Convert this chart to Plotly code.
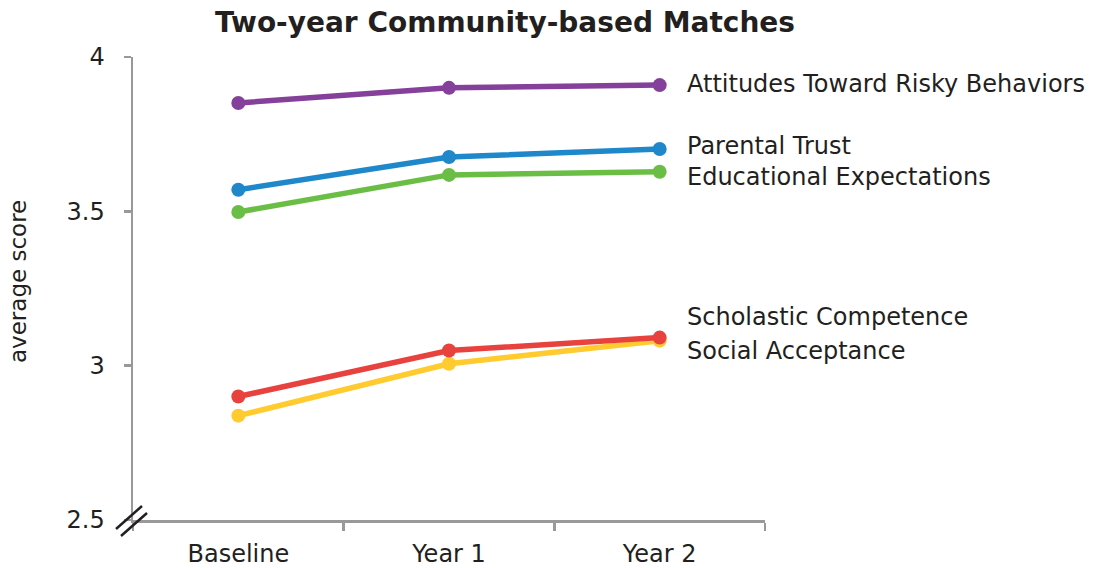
import plotly.graph_objects as go

categories = ["Baseline", "Year 1", "Year 2"]
series_names = [
    "Attitudes Toward Risky Behaviors",
    "Parental Trust",
    "Educational Expectations",
    "Scholastic Competence",
    "Social Acceptance",
]
attitudes = [3.851, 3.90, 3.909]
parental = [3.570, 3.676, 3.702]
educational = [3.498, 3.618, 3.628]
scholastic = [2.900, 3.049, 3.091]
social = [2.838, 3.006, 3.081]
colors = ["#84409A", "#1E88CB", "#6BBE45", "#E8423F", "#FFCB2F"]
label_y = [3.913, 3.712, 3.612, 3.159, 3.049]
y_ticks = [2.5, 3, 3.5, 4]
y_tick_text = ["2.5", "3", "3.5", "4"]

values = [attitudes, parental, educational, scholastic, social]
FONT = "DejaVu Sans, Verdana, sans-serif"
INK = "#231F20"
AXIS = "#999999"

fig = go.Figure()
for name, vals, col in reversed(list(zip(series_names, values, colors))):
    fig.add_trace(go.Scatter(
        x=categories, y=vals, name=name, mode="lines+markers",
        line=dict(color=col, width=5.5),
        marker=dict(color=col, size=14),
        showlegend=False, cliponaxis=False, hoverinfo="skip",
    ))

for name, ly in zip(series_names, label_y):
    fig.add_annotation(
        text=name, x=1, xref="paper", xshift=-80, xanchor="left",
        y=ly, yref="y", showarrow=False,
        font=dict(family=FONT, size=24, color=INK),
    )

fig.add_annotation(
    text="average score", textangle=-90, x=0, xref="paper", xshift=-115,
    xanchor="center", y=1 - (282 - 57) / (520 - 57), yref="paper",
    yanchor="middle", showarrow=False,
    font=dict(family=FONT, size=23, color=INK),
)

# axis break marks
for dx0, dy0, dx1, dy1 in [(-17, -9, 9, 14), (-12, -16, 14, 7)]:
    fig.add_shape(
        type="line", xref="paper", yref="paper",
        xsizemode="pixel", ysizemode="pixel", xanchor=0, yanchor=0,
        x0=dx0, y0=dy0, x1=dx1, y1=dy1,
        line=dict(color=INK, width=2.5),
    )

fig.update_layout(
    width=1095, height=568,
    margin=dict(l=133, r=330, t=57, b=48),
    paper_bgcolor="white", plot_bgcolor="white",
    hovermode=False,
    title=dict(
        text="<b>Two-year Community-based Matches</b>",
        x=505 / 1095, xanchor="center", xref="container",
        y=1 - 22 / 568, yanchor="middle", yref="container",
        font=dict(family=FONT, size=28, color=INK),
    ),
    xaxis=dict(
        type="category", range=[-0.5, 2.5], tickson="boundaries",
        automargin=False,
        showline=True, linecolor=AXIS, linewidth=2.5,
        ticks="outside", ticklen=8, tickcolor=AXIS, tickwidth=2.5,
        showgrid=False, zeroline=False,
        tickfont=dict(family=FONT, size=24, color=INK),
        ticklabelstandoff=11,
    ),
    yaxis=dict(
        range=[2.5, 4], tickvals=y_ticks, ticktext=y_tick_text,
        automargin=False,
        showline=True, linecolor=AXIS, linewidth=2.5,
        ticks="outside", ticklen=7, tickcolor=AXIS, tickwidth=2.5,
        showgrid=False, zeroline=False,
        tickfont=dict(family=FONT, size=24, color=INK),
        ticklabelstandoff=14,
    ),
)

fig.write_html(
    "out.html",
    config={"displayModeBar": False, "staticPlot": True},
    post_script="document.body.style.margin='0';document.body.style.overflow='hidden';",
)
